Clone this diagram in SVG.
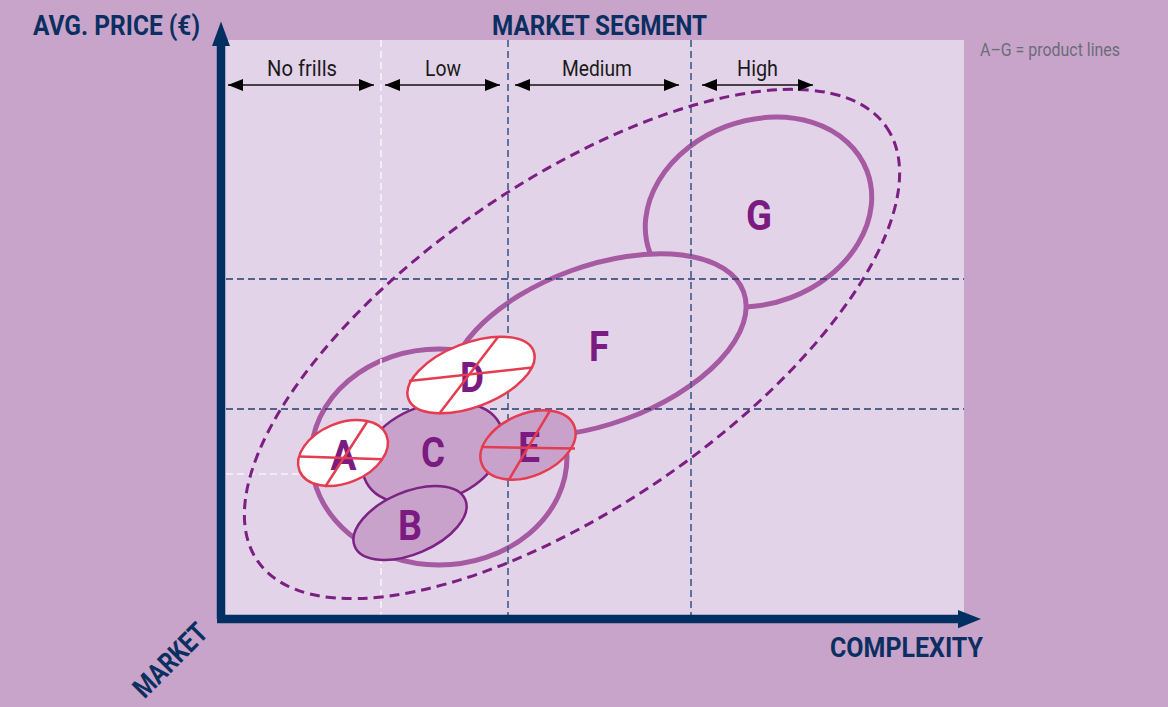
<svg xmlns="http://www.w3.org/2000/svg" width="1168" height="707" viewBox="0 0 1168 707">
<defs>
<style>
.title{font-family:Roboto,"Liberation Sans",sans-serif;font-weight:700;font-size:28px;fill:#0b2f60}
.seg{font-family:Roboto,"Liberation Sans",sans-serif;font-size:22px;fill:#1a1a1a;text-anchor:middle}
.note{font-family:Roboto,"Liberation Sans",sans-serif;font-size:18px;fill:#6c6c78}
.lbl{font-family:Roboto,"Liberation Sans",sans-serif;font-weight:700;font-size:42px;fill:#7b1a80;text-anchor:middle}
.gv{stroke:#3f5b89;stroke-width:1.6;stroke-dasharray:7 4;fill:none}
.gh{stroke:#223f6e;stroke-width:1.4;stroke-dasharray:7 4;fill:none}
.gw{stroke:#f8f3f9;stroke-width:1.6;stroke-dasharray:7 4;fill:none}
.zone{fill:none;stroke:#a65aa2;stroke-width:5}
.prod{fill:#c8a2cb;stroke:#7c2383;stroke-width:2.5}
.cutw{fill:#ffffff;stroke:#e43c50;stroke-width:2.5}
.cutp{fill:#c8a2cb;stroke:#e43c50;stroke-width:2.5}
.x{stroke:#e43c50;stroke-width:2.5;fill:none}
.arr{stroke:#111;stroke-width:1.6;fill:none;marker-start:url(#ah);marker-end:url(#ah)}
.axis{stroke:#002f62;stroke-width:8.5;fill:none}
</style>
<marker id="ah" viewBox="0 0 15 12" refX="15" refY="6" markerWidth="15" markerHeight="12" markerUnits="userSpaceOnUse" orient="auto-start-reverse">
<path d="M0,0 L15,6 L0,12 z" fill="#000"/>
</marker>
</defs>

<rect x="0" y="0" width="1168" height="707" fill="#c8a4cb"/>
<rect x="221" y="40" width="743" height="579" fill="#e2d3e8"/>

<g id="zone-low">
<ellipse class="zone" cx="439" cy="457" rx="128" ry="108"/>
</g>
<g id="node-G">
<ellipse class="zone" cx="758.5" cy="212" rx="116" ry="91.5" transform="rotate(-20.7 758.5 212)"/>
<text class="lbl" x="759" y="230" textLength="26" lengthAdjust="spacingAndGlyphs">G</text>
</g>
<g id="node-F">
<ellipse class="zone" style="fill:#e2d3e8" cx="598" cy="345" rx="155" ry="79" transform="rotate(-20 598 345)"/>
<text class="lbl" x="599" y="361" textLength="20" lengthAdjust="spacingAndGlyphs">F</text>
</g>

<g id="grid">
<line class="gw" x1="381" y1="40" x2="381" y2="615"/>
<line class="gv" x1="508" y1="40" x2="508" y2="615"/>
<line class="gv" x1="691" y1="40" x2="691" y2="615"/>
<line class="gh" x1="226" y1="279" x2="964" y2="279"/>
<line class="gh" x1="226" y1="409" x2="964" y2="409"/>
<line class="gw" x1="226" y1="474" x2="381" y2="474"/>
</g>

<g id="zone-all">
<ellipse cx="572" cy="344" rx="382" ry="162" transform="rotate(-34.6 572 344)" fill="none" stroke="#7b1f82" stroke-width="3" stroke-dasharray="10 6"/>
</g>

<g id="node-C">
<ellipse class="prod" cx="433" cy="453" rx="73" ry="48" transform="rotate(-20 433 453)"/>
<text class="lbl" x="433" y="467" textLength="24" lengthAdjust="spacingAndGlyphs">C</text>
</g>
<g id="node-B">
<ellipse class="prod" cx="410" cy="523" rx="60" ry="31" transform="rotate(-23 410 523)"/>
<text class="lbl" x="410" y="540" textLength="24" lengthAdjust="spacingAndGlyphs">B</text>
</g>
<g id="node-A">
<ellipse class="cutw" cx="343" cy="453" rx="47" ry="30" transform="rotate(-22.5 343 453)"/>
<text class="lbl" x="343.5" y="470" textLength="26" lengthAdjust="spacingAndGlyphs">A</text>
<path class="x" d="M300,456.5 L382.5,459.3 M367,422 L325,487"/>
</g>
<g id="node-D">
<ellipse class="cutw" cx="471" cy="375" rx="67" ry="32" transform="rotate(-21 471 375)"/>
<text class="lbl" x="472" y="392" textLength="24" lengthAdjust="spacingAndGlyphs">D</text>
<path class="x" d="M409,381 L532,367.5 M498,337 L439,414"/>
</g>
<g id="node-E">
<ellipse class="cutp" cx="528" cy="445" rx="50" ry="31" transform="rotate(-23 528 445)"/>
<text class="lbl" x="529" y="462" textLength="22" lengthAdjust="spacingAndGlyphs">E</text>
<path class="x" d="M481,447 L575,448.5 M549.5,411.5 L509,479.5"/>
</g>

<g id="segments">
<line class="arr" x1="228" y1="85" x2="374" y2="85"/>
<line class="arr" x1="385" y1="85" x2="500" y2="85"/>
<line class="arr" x1="515" y1="85" x2="679" y2="85"/>
<line class="arr" x1="702" y1="85" x2="813" y2="85"/>
<text class="seg" x="302" y="76" textLength="70" lengthAdjust="spacingAndGlyphs">No frills</text>
<text class="seg" x="443" y="76" textLength="36" lengthAdjust="spacingAndGlyphs">Low</text>
<text class="seg" x="597" y="76" textLength="70" lengthAdjust="spacingAndGlyphs">Medium</text>
<text class="seg" x="757.5" y="76" textLength="41" lengthAdjust="spacingAndGlyphs">High</text>
</g>

<g id="axes">
<line class="axis" x1="221" y1="619" x2="221" y2="44"/>
<path d="M212,46 L221,21.5 L230,46 z" fill="#002f62"/>
<line class="axis" x1="217" y1="619" x2="960" y2="619"/>
<path d="M958,610 L981,619 L958,628.3 z" fill="#002f62"/>
</g>

<g id="labels">
<text class="title" x="33" y="35" textLength="167" lengthAdjust="spacingAndGlyphs">AVG. PRICE (€)</text>
<text class="title" x="492" y="35" textLength="215" lengthAdjust="spacingAndGlyphs">MARKET SEGMENT</text>
<text class="title" x="830" y="657" textLength="153" lengthAdjust="spacingAndGlyphs">COMPLEXITY</text>
<text class="title" text-anchor="middle" transform="translate(177 667) rotate(-45)" textLength="92" lengthAdjust="spacingAndGlyphs">MARKET</text>
<text class="note" x="980" y="56" textLength="140" lengthAdjust="spacingAndGlyphs">A–G = product lines</text>
</g>
</svg>
